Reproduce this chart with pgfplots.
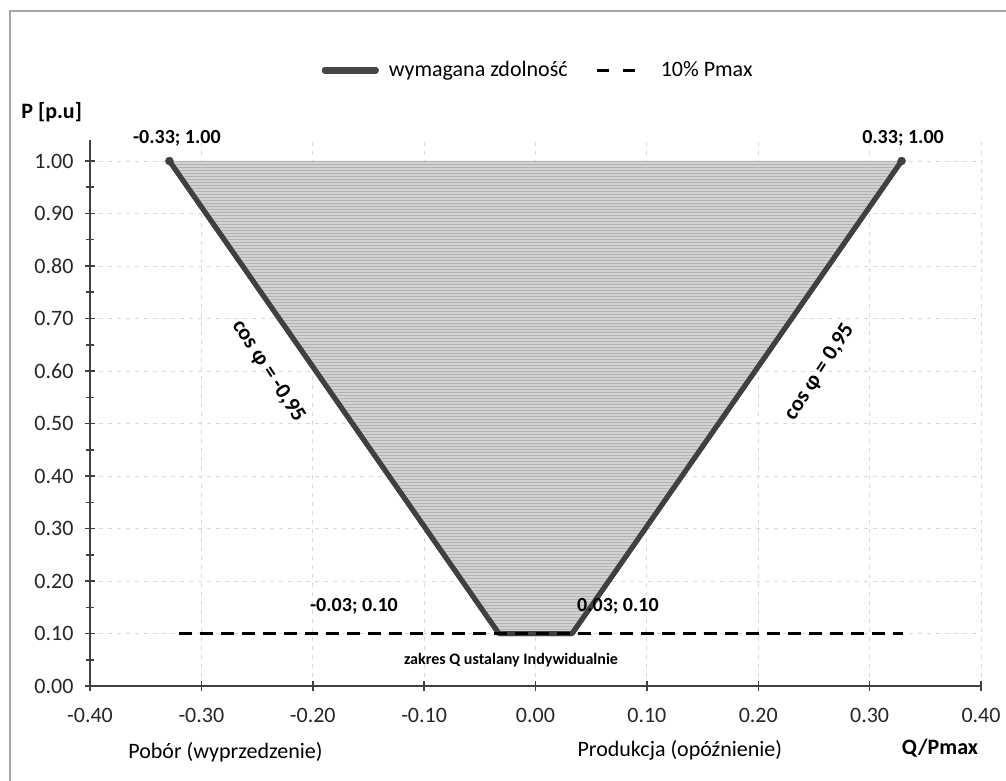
\documentclass[border=0pt]{standalone}
\usepackage{pgfplots}
\pgfplotsset{compat=1.18}
\usetikzlibrary{patterns}
\usepackage{fontspec}
\setmainfont{Carlito}

\definecolor{edgegray}{HTML}{404040}
\definecolor{fillgray}{HTML}{D2D2D2}

\begin{document}
\begin{tikzpicture}[x=1pt,y=1pt]
\useasboundingbox (0,0) rectangle (1006,780);
% ramka wykresu
\draw[gray!70, line width=1.5pt] (10,-5) -- (10,769) -- (1012,769);

\begin{axis}[
    at={(90pt,94pt)}, anchor=south west,
    scale only axis,
    width=891pt, height=546pt,
    xmin=-0.4, xmax=0.4,
    ymin=0, ymax=1.04,
    axis lines=left,
    axis line style={-, edgegray, line width=2.5pt},
    xtick={-0.4,-0.3,-0.2,-0.1,0,0.1,0.2,0.3,0.4},
    xticklabels={-0.40,-0.30,-0.20,-0.10,0.00,0.10,0.20,0.30,0.40},
    ytick={0,0.1,0.2,0.3,0.4,0.5,0.6,0.7,0.8,0.9,1.0},
    yticklabels={0.00,0.10,0.20,0.30,0.40,0.50,0.60,0.70,0.80,0.90,1.00},
    minor y tick num=1,
    tick align=center,
    major tick length=10pt,
    minor tick length=7pt,
    tick style={edgegray, line width=1.5pt},
    grid=major,
    major grid style={gray!30, dash pattern=on 4pt off 5pt, line width=0.8pt},
    ticklabel style={font=\fontsize{22}{26}\selectfont, text=black!85},
    xticklabel style={yshift=-14pt},
    yticklabel style={xshift=-8pt},
    clip=false,
    legend columns=2,
    legend style={at={(axis description cs:0.503,1.128)}, anchor=center,
        draw=none, fill=none, font=\fontsize{22}{26}\selectfont,
        /tikz/every odd column/.append style={column sep=8pt},
        /tikz/every even column/.append style={column sep=26pt}},
]

% wymagana zdolnosc
\addplot[draw=edgegray, line width=5pt, line join=round,
    fill=fillgray, postaction={pattern=horizontal lines, pattern color=gray!60},
    legend image code/.code={\draw[line width=7pt, line cap=round, gray!55!black]
        (0pt,0pt) -- (50pt,0pt);}]
    coordinates {(-0.3287,1.00) (-0.0329,0.10) (0.0329,0.10) (0.3287,1.00)};
\addlegendentry{wymagana zdolność}

% 10% Pmax
\addplot[black, line width=3pt, dash pattern=on 13pt off 8pt,
    legend image code/.code={\draw[line width=3pt, dash pattern=on 12pt off 14pt]
        (0pt,0pt) -- (40pt,0pt);}]
    coordinates {(-0.32,0.10) (0.33,0.10)};
\addlegendentry{\hspace{12pt}10\% Pmax}

% punkty koncowe
\addplot[only marks, mark=*, mark size=4pt, edgegray, forget plot]
    coordinates {(-0.3287,1.00) (0.3287,1.00)};

% etykiety danych
\node[font=\bfseries\fontsize{20}{24}\selectfont] at (axis cs:-0.322,1.044) {-0.33; 1.00};
\node[font=\bfseries\fontsize{20}{24}\selectfont] at (axis cs:0.330,1.044) {0.33; 1.00};
\node[font=\bfseries\fontsize{20}{24}\selectfont] at (axis cs:-0.163,0.152) {-0.03; 0.10};
\node[font=\bfseries\fontsize{20}{24}\selectfont] at (axis cs:0.074,0.152) {0.03; 0.10};
\node[font=\bfseries\fontsize{16}{20}\selectfont] at (axis cs:-0.022,0.05) {zakres Q ustalany Indywidualnie};

% cos phi
\node[font=\bfseries\fontsize{22}{26}\selectfont, rotate=-57] at (axis cs:-0.240,0.600) {cos φ = -0,95};
\node[font=\bfseries\fontsize{22}{26}\selectfont, rotate=57] at (axis cs:0.255,0.598) {cos φ = 0,95};

% opisy osi
\node[font=\bfseries\fontsize{22}{26}\selectfont] at (axis description cs:-0.043,1.051) {P [p.u]};
\node[font=\bfseries\fontsize{22}{26}\selectfont] at (axis description cs:0.954,-0.114) {Q/Pmax};
\node[font=\fontsize{22}{26}\selectfont] at (axis description cs:0.152,-0.121) {Pobór (wyprzedzenie)};
\node[font=\fontsize{22}{26}\selectfont] at (axis description cs:0.662,-0.117) {Produkcja (opóźnienie)};

\end{axis}
\end{tikzpicture}
\end{document}
